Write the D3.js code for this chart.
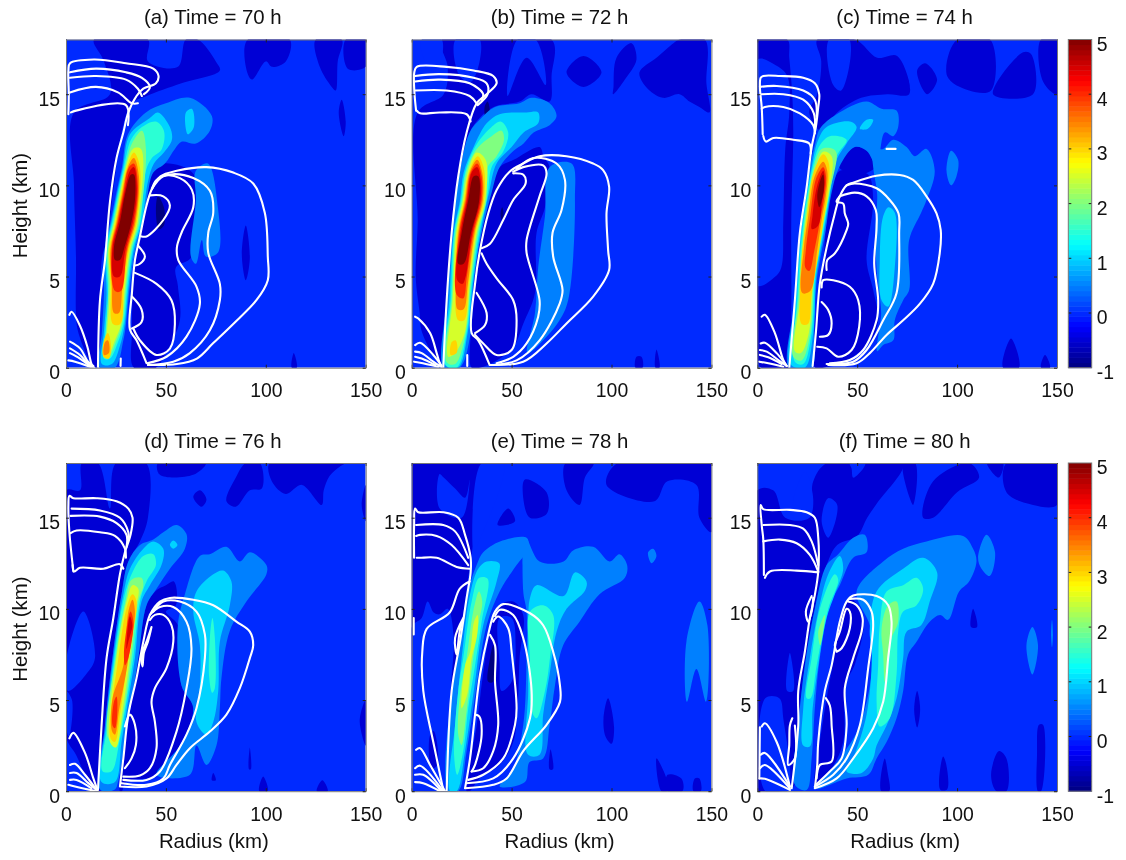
<!DOCTYPE html>
<html><head><meta charset="utf-8">
<script src="https://cdn.jsdelivr.net/npm/d3@7"></script>
<style>html,body{margin:0;background:#fff}svg{display:block;filter:blur(0.5px)}text{font-family:"Liberation Sans",Arial,sans-serif;fill:#111}</style>
</head><body><svg id="c" width="1126" height="860"></svg>
<script>
const titles=["(a) Time = 70 h","(b) Time = 72 h","(c) Time = 74 h","(d) Time = 76 h","(e) Time = 78 h","(f) Time = 80 h"];
const radiusTicks=[0,50,100,150];
const heightTicks=[0,5,10,15];
const barTicks=[-1,0,1,2,3,4,5];
const shadeBase=0;
// Filled bands: [level, r,z, r,z, ...] in km, painted in order
const fillA=[
[-0.5,14,18,19,16.8,22,15,4,14,4,10,5,6,5,3,6,2,13,.2,16,0,17,2,18,6,20.5,7,24,10,28,13,33,14.5,40.3,14.9,57.8,15.6,77,16.3,75,16.8,66,18,60,18,56,16.5,41,16.8,41,18],
[-0.5,34,0,33,2,34,5,37,7.2,40,9,43,10.7,48,11.2,64,10.6,63,6.1,55,5.5,56,4.5,57,2.6,50,.8,45,0],
[-1,46,9.4,49,8.8,49,7.8,46.5,7.6,45,8.6],
[-0.5,91,18,90,16.5,93,15.8,100,16.8,103,16.5,110,16.8,112,18],
[-0.5,125,18,127,16.5,133,15.4,135,15.2,136,16.8,138,18],
[-0.5,140,18,141,16.4,150,16.5,150,18],
[-0.5,136.5,14,138,14.7,140,13.5,139,12.7],
[-0.5,90,7.8,92,6,90,4.8,88,6.2],
[-0.5,113,0,114,.8,115.5,0],
[0.5,65,10.8,71,11.2,76,8.8,76,6.3,70,6.1,68,7,65,5.7,62.5,6.1,65,9.2],
[0.5,17,0,18,2,19,4,19.3,6.5,22.3,8,25,9.5,28,11,31,12.8,40,14,50,14.5,62,14.8,73,13.8,72,13,65,12.3,58,12.4,54.5,12,49.5,11.2,43.7,10.7,41,9.6,38.7,8,34.8,6.5,32,4.5,30,2.4,28.7,1.5,24.5,0],
[1,60,14,63,14.2,64,13.2,61,12.8],
[1,18,.2,19,2,20.3,4,19.8,6.5,22.8,8,25.5,9.5,28.5,11,32,12.8,42,13.7,46,14,52,13.2,53,12.5,49,11.8,44,11.2,41,10.2,38,8,34,6.5,31.4,4.5,29.4,2.4,27,1.2,23,.2],
[1.5,19,.5,19.7,2,21,4,20.3,6.5,23.3,8,26,9.5,29,11,32.5,12.5,38,13.2,45,13.5,49,13,48,12,43,11.5,40,10.8,37.3,8,33.4,6.5,30.8,4.5,28.8,2.4,26,1.4,22,.5],
[2,19,.6,20,2,21.3,4.5,20.8,6.5,23.8,8,26.5,9.5,29.5,11,33,12.3,38,13,40,12,36.7,8,32.8,6.5,30.2,4.5,28.2,2.4,25,1.4,21.5,.6],
[2.5,19,.6,20.5,2,22,4.5,21.3,6.5,24.3,8,27,9.5,30,11,33.5,12,37.5,12,36,8,32.2,6.5,29.6,4.5,27.6,2.4,24.5,1.5,21.3,.7],
[3,23.5,2.4,22.5,4.5,21.8,6.5,24.8,8,27.5,9.5,30.5,11,34,11.8,37,11,35.4,8,31.6,6.5,29,4.5,27.2,2.4],
[3,18.7,.6,19,1.5,21,1.9,22.5,1.2,21.5,.5],
[3.5,24,3,23,4.5,22.3,6.5,25.3,8,28,9.5,31,11,34,11.5,36.5,10.5,34.8,8,31,6.5,28.3,4.5,26.5,3],
[3.5,19,.7,19.5,1.4,21,1.5,21.5,.8],
[4,24.5,4.2,22.8,6.5,25.8,8,28.5,9.5,31.5,11,34,11.2,36,10,34.2,8,30.5,6.5,27.5,4.2],
[4.5,24,5,23.2,6.5,26.3,8,29,9.5,32,10.8,34,11,35.5,9.8,33.5,8,29.8,6.5,27,5],
[5,24.5,5.9,24,6.6,27,8,29.5,9.5,32.5,10.6,34,10.6,34.7,9.5,32.8,8,29,6.5,27,5.9]];
const fillB=[
[-0.5,15,18,18,16.5,16,15,3,14,3,8,2,5,4,3,5,2,13,.3,16,0,17.5,3.7,20,7.4,24,10.7,29,12.9,34,13.7,41,14.3,54,14.6,60,15,69,14.6,70,16,70,18],
[0,48,14.9,57.5,17,67,15.5,62,18,53,18],[0,5,18,7,16.8,13,16.5,15,18],[0,22,18,24,16,30,15.7,34,18],
[-0.5,30,0,29.5,1.9,31,4.6,34,7.4,38,9.6,44,11,51,11.4,64,12.1,66,11.6,69,11,66.7,8.8,62.5,7.4,61.7,4.1,55.8,2.4,51,1.15,42.5,.4,34,0],
[-1,44.5,8.5,45.3,8.8,46,8.4,45,8.1],
[-0.5,77.5,16.2,86,17.1,95,16.2,86,15.4],
[-0.5,101,15.4,102.5,17,110,17.8,112.5,16.9,106.7,15.8,100.8,15],
[-0.5,114,16.2,122.5,17,131,17.8,134,18,146.7,18,147.5,15.6,149,14,144,14.3,139,14.6,134,15,125.7,14.8,117.3,15.4],
[-0.5,112,0,112.5,.6,115,.6,115.5,0],[-0.5,122,0,122.5,1,124,0],
[-1,36.5,14.3,38,14.6,39,14,37,13.7],
[0.5,69,11,80,11.2,81.7,9.2,78.3,3.7,74,2.6,67.5,1.7,58,.8,61.7,3,63.3,5.5,66.7,8.3],
[0.5,16,0,17.5,3.7,20,7.4,24,10.7,29,12.9,34,13.6,41.7,14.3,54,14.5,60,14.8,69,14.5,72.5,13.8,69,13.3,61,12.9,56,12.3,51,11.9,44,11,40,9.6,35,7.4,31,4.6,29.5,1.9,24,0],
[1,16.7,.15,18.8,3.7,21,7.4,24.2,9.2,26,10.7,31,12.1,37.5,13.4,44,13.9,57.5,14,63.3,14,63.3,13.4,56,12.9,50,12.1,42.5,11.2,38.7,9.6,34.4,7.4,30.6,4.6,28,1.9,23.3,0],
[1.5,17,.15,19.5,3.7,21.3,7.4,24.7,9.2,26.7,10.7,31.7,12.1,39,13.1,44.5,13.5,48.3,12.9,46,11.9,40,11,38,9.5,33.8,7.4,30.1,4.6,27.5,1.9,22.5,0],
[2,17.5,.3,20,3.7,21.8,7.4,25.2,9.2,27.2,10.7,32.5,12,40,12.7,45,13,46.2,12.5,42.5,11.6,38,11,37.4,9.2,33.2,7.4,29.6,4.6,27,1.9,21.8,.2],
[2.5,18.3,.6,20.5,3.7,22.3,7.4,25.7,9.2,28,10.7,32.5,11.8,37,11.4,36.8,9.2,32.6,7.4,29.1,4.6,26.5,1.9,21.7,.8],
[3,23.3,2.6,21.7,4.6,22.8,7.4,26.2,9.2,28.5,10.7,33,11.6,36,11,36.2,9.2,32,7.4,28.6,4.6,26.3,2.6],
[3,19.5,.7,20,1.4,22,1.5,22.5,.8],
[3.5,23,3.2,22.2,4.6,23.3,7.4,26.7,9.2,29,10.7,32.8,11.4,35.3,10.7,35.6,9.2,31.5,7.4,28.1,4.6,26,3.2],
[4,22.5,4,23.8,7.4,27.2,9.2,29.5,10.7,32.8,11.2,35,10.5,35,9.2,30.9,7.4,27.6,5,25.8,3.8],
[4.5,22.8,4.8,24.4,7.4,27.7,9.2,30,10.7,32.8,11,34.5,10.3,34.4,9.2,30.3,7.4,27,5,25.5,4.6],
[5,23.3,5.7,25,7.4,28.3,9.2,31,10.5,33.3,10.5,33.8,9.2,29.7,7.4,26,5.7]];
const fillC=[
[-0.5,0,18,15,18,16,17,17.5,15,18,13,17,8,17,3,16,0,2,0,0,1],
[0,0,16.9,9,16.6,15,16,16,14,14,12,13,8,12,5.5,9,5,0,4.5],
[-0.5,30,18,32,16.8,30,15,26,14,32,13,40,14,52,14.8,65,15,76,15,70,17.1,60,17,49,18],
[0,36,18,38,15.5,42,15.2,46,18],
[-0.5,66,15.8,73,16.2,76,15.4,70,15],[-0.5,80,16.3,84,16.7,90,15.8,85,15],
[-0.5,100,18,95,16,106,15.2,117,15.2,116.5,18],
[-0.5,118,15,133,17.3,137,17.2,138,15],
[-0.5,142,18,150,18,150,15,143,15.7],
[-0.5,127,1.6,123,0,131,0],[-0.5,144,.7,142,0,146.5,0],
[-0.5,29,0,30,3.6,33,5.9,36,9.2,41.3,10.8,49,10.7,55.5,10.6,58,9.2,54.7,5.9,58,4.26,60.5,2.6,57,1.5,48,.6,39.7,.2,33,0],
[-0.5,41,11,48.8,12.1,54.7,11.9,59.7,11.1,52,10.6],
[0.5,58,12,63,12,68,12.5,74.7,12.1,78.8,11.6,84.7,12,88.8,10.8,84.7,9.2,82,8.5,76,7,76,4.26,73,3.7,68.8,2.6,68,1.5,63,1.24,60,.9,62,3,60,5,59,7.5,60,9.5,58,11],
[0.5,94.7,10.8,97,11.9,100.5,11.4,99.7,10.5,97,10],
[0.5,16,0,18.8,3.7,21.3,7.4,26.3,11,29,12.3,31.3,13.1,39.7,13.9,54.7,14.6,62.2,14.2,69.7,14.1,70.5,13.2,68,12.7,63.8,12.9,59.7,11.1,54.7,11.9,48.8,12.1,41,11,37,9.5,34,7.4,30,5,28.5,2.8,27,0],
[1,63,8.3,65.7,8.8,68.8,8.5,68.8,5.5,65.5,3.35,62.2,3.7,61.3,5.9],
[1,51.3,13.1,54.7,13.6,58,13.6,55.3,13.1],
[1,16.5,.2,19.3,3.7,21.8,7.4,27.2,11,30.5,12.5,34.7,13.2,46.3,13.5,49.7,13.2,44.7,12.3,39.7,11.4,36.3,9.4,33.3,7.4,29.5,5,28,1.9,23.8,0],
[1.5,18.8,.33,20,3.7,22.5,7.4,27.7,11,31.3,12.2,36.3,12.7,44.7,12.5,39.7,11.6,36,9.4,32.8,7.4,29,5,27.2,1.9,23,.2],
[2,18,.6,20.5,3.7,23,7.4,28.3,11,32.2,12,38,12,39.7,11.75,35.7,9.4,32.3,7.4,28.5,5,26.6,1.9,22.2,.4],
[2.5,18.8,.9,21.3,3.7,23.5,7.4,28.8,10.8,33,11.85,37.2,11.6,35.5,9.4,31.8,7.4,28,5,25.8,1.9,21.8,.8],
[3,22.2,2.4,21.3,4,22.5,6.45,24.8,8.3,28,10.65,33,11.7,35.8,11.2,35,9.4,33.5,8.3,31,6.45,27.2,4,25.4,2.4],
[3.5,22.5,4.1,23.2,6.45,25.5,8.3,28.7,10.5,33,11.3,35,10.8,34.3,9.4,32.5,8.3,30,6.45,26.5,4.2],
[4,24,5.5,24.3,6.45,26.5,8.3,29.5,10.4,33,11,34.4,10.5,33.3,9.2,31.8,8.3,28.6,6.45,26,5.3],
[4.5,27.3,7.6,27.6,8.3,30,10,33,10.8,33.8,10.2,32.3,9,30.5,7.8],
[5,30,9.4,31.6,10.3,33,10.6,33.3,9.75,31,8.8]];
const fillD=[
[-0.5,8,18,16,18,22,15.5,25,18,40,18,41,15,37,13.7,31.2,12.6,27.8,10.8,23.7,7.7,19.5,3.6,17,0,14,0,5,2,0,3,0,16.5,7,16.5],
[0,8.7,9.85,14.5,7.3,10,6.4,1,5.5,.3,7.3],[0,0,5.5,3,5,1.5,3,0,3.5],
[-0.5,27,0,29.5,2.7,32,4.4,36.2,7.3,40.3,10.2,45,11,50,11.3,54,11.5,55,10.2,50,9.85,56,9.1,57.8,5.8,63.7,4.55,57,2.5,47,.9,30,.5,28,0],
[-0.5,63.7,16.15,67,16.5,70.3,16,67.8,15.6],[-0.5,46,18,47,17.35,63.7,17.35,70,18],
[-0.5,80.3,15.9,85,17.2,90,18,97,18,98,16.6,92,16.5,85,15.6],
[-0.5,102,18,103,17,110,16.3,118,16.8,128,15.7,129,16.5,132,17.3,137,17.8,140,18],
[-0.5,150,5,147,3.9,150,2.5],[-0.5,148,15.7,150,16.8,150,14.8],
[-0.5,98.7,.8,96.7,0,101,0],[-0.5,128.3,.6,125.5,0,131,0],[-0.5,92,2.4,91.6,1.2,92.5,1.2],[-0.5,73.7,1,73,.6,75,.6],
[0.5,59.5,10.8,67,12.9,72,13,80.3,13.4,87,12.6,92,13.1,100.3,12.4,100.3,11.9,90.3,10.4,82,8.8,77.8,6.2,77,4.55,75.3,2.5,70.3,1.44,65.3,2.5,62,.9,45.3,.9,57,2.5,63.7,4.55,57.8,5.8,56,9.1],
[1,63.7,9.85,65.3,10.95,73.7,11.9,78.7,12.1,82.8,11.5,82,10.2,77,8.2,76.2,5.5,73.7,3.8,70.3,3.1,65.3,3.8,67,5.8,67,8],
[1.5,72,8.4,73.3,9.5,74.5,8.4,74.5,5.65,73.2,5.4,71.7,6.2],
[0.5,17,.1,19.5,3.6,23.7,7.7,27.8,10.8,31.2,12.6,37,13.5,43.7,13.8,48.7,14.2,55.3,14.6,60.3,14.1,59.5,13.3,52,12.2,45.3,11.1,40.3,10.2,36.2,7.3,32,4.4,29.5,2.7,26,.5,24.5,.1],
[1,17.8,.5,20,3.6,24.2,7.7,28.7,10.8,32,12.2,38.7,13.3,43.7,13.7,48.7,13.3,47.8,12.4,42,11.3,37.8,10.4,34.5,7.3,30.3,4.4,27.8,2.7,24.5,.5],
[1,52,13.5,53.7,13.75,55.8,13.5,53.7,13.3],
[1.5,18.3,1.1,20.7,3.6,24.7,7.7,29,10.6,32.8,11.9,38.7,12.9,43.7,13,45,12.4,40.3,11.5,37,10.4,33.7,7.3,29.5,4.4,26.7,2.7,22.8,1.1],
[2,21.2,2.9,25.3,7.7,29.7,10.4,32.8,11.6,37.8,11.7,38.7,11.3,36.2,10.4,32.8,7.3,29,4.4,25.3,2.7],
[2.5,22,2.7,25.7,7.7,30.3,10.4,33.3,11.3,36.2,11.1,34.5,9.85,32,7.3,28.3,4.4,25,2.4],
[3,22.3,2.9,26.2,7.3,30.7,10.2,33.3,10.8,35.3,10.4,31,7.3,27.3,4.4,24.5,2.7],
[3.5,23,3.3,23.3,5.1,28.7,6.9,31.2,9.85,33.3,10.5,34.5,9.85,30.7,6.9,26.7,4.55,24.5,3.1],
[4,23.3,3.6,24,4.9,25.3,5.2,25.7,4.4,24.5,3.45],
[4,29,7.5,30.3,8.9,32.3,9.85,33.7,9.3,31.2,7.3,29.5,6.9],
[4.5,30.7,8.75,32,9.6,33.2,9.1,31.2,8.2,30.3,7.8]];
const fillE=[
[-0.5,0,18,35,18,30,13,28,11.5,24,8.2,20,5.5,18,0,0,0],
[0,0,9,5,9.5,8,10.4,11,9.8,14,9.7,18,10,21,8.5,19.5,5.5,18,0,4,0,0,0],
[-0.5,9,3,11,3.3,13,1.5,10,1.2],
[0,14,17.4,16,17.2,21.7,16.6,26.7,16.1,29,17.1,25,15,14,15.5],
[0,35,18,46,18,33,13.5,31,13],
[-0.5,43,14.6,48.3,15.5,51.7,14.8],
[-0.5,55.8,16.1,56.7,17.1,67.5,16.4,67.5,15.2,59.2,15],
[-0.5,77,18,77.5,16.5,84,15.7,86.7,17.2,91,18],
[-0.5,103,18,97.5,16.8,121.5,15.9,128,17,142.5,16.8,144,15,150,14.2,150,18],
[-0.5,27.5,0,32.5,3.6,35.8,6.5,39.2,8.75,44.2,10.2,50.8,10.4,55.8,9.67,54,7.3,53,4.55,50.8,2.7,44,1.44,34,.7,29,0],
[0,44,9.5,50,9.5,52,8,50,6,45,5.5,44,7],
[-1,39.2,7.3,40.8,8,40.8,6,38.3,6],
[-0.5,98.3,5.1,96,4,97,3,100,2.6,101.3,3.5],[-0.5,122.5,1.8,125,0,128,0,127.5,.7],[-0.5,128,.9,135,.7,135.5,0,128,0],[-0.5,141.7,.7,144,.7,144.7,0,141,0],[-0.5,69.5,2.3,70.7,1.2,69,1.2],
[0.5,137.5,8.2,144,10.4,148,9.1,147.3,4.9,142.5,6.7,137.8,4.9],
[0.5,118.3,13.1,120.8,13.3,122.5,12.9,120,12.5],
[0.5,18.3,0,20,5.5,24.2,8.2,28.3,11,32.5,12.4,35.8,13.1,44.2,13.7,57.5,13.9,58.3,13.3,52.5,12.4,44.2,11,37.5,9.1,32.5,5.8,27.5,2.2,23.3,0],
[0.5,57,13.9,64,12.6,76,12.6,80.8,13.2,90.8,13.4,99,12.6,104,13,107.8,12.4,106.7,11.7,94,10.8,84,9.3,75.8,8,71.7,5.8,69,3.6,65.8,1.8,59,1.6,56.7,.5,44,.26,50.8,1.26,55.8,3.6,57.5,7.3,57.5,9.85,55.8,11],
[1,19.2,0,21.7,3.6,25,7.3,29.2,10.8,33.3,12.2,37.5,12.6,43.8,12.5,42.5,11.5,35.8,9.1,31.7,6,26.7,2.2,22.5,0],
[1,59.2,10.6,62.5,11.3,76,10.7,81.7,12,87.5,11.5,86.7,11,77.5,10,72.5,8.75,69,6.4,65.8,4.2,64,2,58.3,2,58.3,5.5,58.3,9.1],
[1.5,59.2,9.85,65.8,10.2,70.8,9.67,69.2,7.3,66.7,5.5,62.5,4,60,4.4,59.2,7.3],
[1.5,21.2,2,23.3,5.5,25.8,7.3,30,10.4,33.8,11.7,38,11.65,35,9.3,31.7,6.9,28.3,4.55,25.8,2.2,22.8,.9],
[2,23.3,3.1,24.2,5.3,27.5,7.3,30.8,9.85,33.7,10.95,35.3,10.4,33.7,9.3,30.8,7.3,27.5,4.4,25,2.54],
[2.5,25,4.55,26.7,6.9,29.2,7.65,31.2,9.3,33,9.67,32.8,8.6,30,7.3,27.8,5.3]];
const fillF=[
[-0.5,0,16.5,8,16.5,14,15,26,15,28,17,35,18,73,18,60,15.8,55,15,50,14,40,13.5,34.7,12.4,28.8,10,23.8,6.9,20.5,3.6,18.8,.35,12,0,0,0],
[0,18,16,24,17.5,28,16,26,15,18,15],[0,4,5.1,11,5.1,13,4,15,0,4,0],[0,16.3,7.6,18,5.5,15,5.5],
[0,32.2,14.8,35.5,16.07,40,15.7,35.5,13.9],
[0,47.2,17.7,48,17.2,53,17.7,54,18,46.3,18],
[-0.5,73,18,78,15.7,79,18],[-0.5,83,15,88,17,106,18,111,17.2,100,16.4,88,15],
[-0.5,124.7,18,124.7,16.4,138,15.7,150,15.7,150,18],[-0.5,115,18,120.8,17.2,123,18],
[-0.5,29,.2,32.5,3.6,37,6.5,41,9,46.3,10.6,53,9.5,49,7,44,5.8,43,2.7,36.3,1.08],
[-0.5,78.5,4.5,80,5.5,81.5,4.5,80,3.5],[-0.5,108,10,110,9,107,9],
[-0.5,63.8,1.8,62,0,66,0,65.3,1],[-0.5,93,1.9,91.5,.1,95,.1,94.5,1.5],
[-0.5,121,2.2,117,.9,119.7,0,124.7,0,124.7,1.8],[-0.5,141,3.64,140,2,140.5,0,142,0,143,3.64],
[0.5,110.5,12.8,114.7,14.06,119,13.1,116.3,11.8,112.2,12.2],
[0.5,134.7,8,137.7,9,140.5,8,137.7,6.4],[0.5,147,8.6,147.5,9.4,148,8.6,147.5,7.9],
[0.5,18.8,.35,20.5,3.6,23.8,6.9,28.8,10,34.7,12.4,40.5,13,48,13.9,53.8,14.06,54.7,13.1,48,12.8,41.3,11.3,36.3,10.2,31.3,7.3,28.8,4.55,27.2,1.8,24.7,.07],
[0.5,49.7,10.95,63,12.6,73,13.3,84.7,13.7,103,14,108,13.3,109.7,12.6,106,11.5,101,10.95,95.5,9.4,91.5,9.67,86.3,9.3,79.7,8.2,75.5,7.5,73,5.5,69.7,4,64.7,2.7,59.7,1.8,55.5,.9,44.7,.7,29.7,.16,41.3,1.8,51.3,3.6,58,7.3,56.3,9.1],
[1,23,2.5,23,4.55,26.3,7.3,30.5,9.85,35.5,11.9,41.3,12.9,43,12.2,38.8,10.8,34.7,9.5,30.5,6.9,27.7,4.55,26.3,2.45],
[1,56.3,8.9,59.7,10.95,73,12.2,83,12.8,90,12,86.3,10.4,82,9.1,74.7,8.75,73,7.3,69.7,5.1,64.7,3.6,59.7,2.5,58,1.8,52.2,1,44.7,1.08,48,1.8,54.7,4.2,57.3,7.3],
[1.5,24.7,5.1,27.2,7.3,31.3,10,38.8,11.9,40.5,11.6,35.5,10,29.7,6.9,26.7,5.1],
[1.5,61.3,9.1,64.7,10.95,73,11.3,79.7,11.7,83,11.1,79.7,10.2,73,9.85,70.5,8.75,69.7,6.4,66.3,4,61.3,3.55,59.7,4.9,60.5,6.9],
[2,62.2,8.94,65.5,10.2,69.7,10.4,70.5,9.3,67.2,8.4,65.5,7.3,63.8,6,63,7.5],
[2,30.5,8.75,33.8,9.67,33,8.8,31.5,8]];
// White contour lines: flat r,z lists in km
const lineA=[
[16,0,17,3.7,19.5,5.9,22,9.1,25.3,11.5,28.7,12.9,31.2,14,35.3,14.9,38.7,15.3,45,15.6,46.3,16,43.7,16.4,30,16.7,14,16.9,2,16.7,1.2,16.3,1.4,15,1.2,13.9],
[2,16.2,15,16.4,30,16.2,38,15.9,42,15.4,39,15],[2,15.9,15,16,30,15.8,36,15.3,38,14.9],[2,15.1,15,15.4,26,15.1,33,14.5,36,14.5],[2.5,14,5,14.1,30,14.4,31,13.3],
[1.7,2.9,2.8,3.07,7,2.3,10.7,1.15,12.8,.2,14,0],[2,1.43,7,1.06,11,.33,13.7,.1],[2,1.06,7,.7,12,.1,14,0],[2,.8,7,.5,12.5,.05],[1.2,.4,4.5,.33,12,.05],
[41,.15,55.5,.2,65.5,.5,73.7,1.35,83.7,2.4,95.3,3.7,101,4.8,101,6.1,99.5,8.5,93.7,10.1,83.7,10.7,70.3,11,55.5,10.8,47.3,10.5,43,9.8,40.3,8.9,37,7.2,34.5,5.9,33,4.1,32,2.1,35.3,1.5,40.3,.25],
[41,.15,53.7,.33,62,.8,72,2.05,77,3.7,77,4.6,71.2,6.3,71.2,7.4,73.7,8.5,72,9.7,63.7,10.4,52,10.6,45.3,10.3,43,9.8],
[41,.25,50.3,.6,60.3,1.7,67,3.5,65.3,4.45,56.2,5.9,55.5,6.6,57.8,7.4,63.7,8.8,63,9.75,57,10.4,48.7,10.5,43,9.8],
[33.7,2.15,37,1.5,45.3,.7,52,1.05,54.5,2.4,52.8,3.7,45.3,4.6,34.5,5.2],
[33,3.9,37.8,3.2,37.8,2.5,33,2.15],[36,6.7,39.5,6.1,37,5.7,34.5,5.6],[42,9.45,48.7,9.4,52,8.9,48.7,8.1,40.3,7.2,37.8,7.2],
[27.3,.1,27.4,.5]];
const lineB=[
[15.8,0,17.5,3.7,20,7.4,23.3,10.5,27.5,12.9,32.5,14.5,37.5,15,42.5,15.6,40.8,16,31,16.3,17.5,16.5,2.5,16.5,1.3,16.2,1.3,15.2,2.2,14.1],
[1.7,16,14,16.1,31,15.9,37.5,15.6,38,15,33,14.4],[1.7,15.7,14,15.8,29,15.6,35.8,15,35,14.7],[1.7,15.2,17.5,15.2,29,14.9,32.5,14.5],[2.5,14.1,4.2,13.95,14,14,27.5,13.9,29.5,13.5],
[1.7,2.8,3.3,2.7,9.2,1.9,12.5,.8,13.8,.33,15,0],[1.7,1.24,4.2,1.37,10.8,.7,15,.1],[1.7,.88,5,.8,10.8,.33,14,.1],[1.7,.6,5,.5,11.7,.15],[1.2,.33,4.2,.27,13.3,.05],
[39,.15,55.8,.33,67.5,1.33,77.5,2.43,90.8,3.9,98.8,5.36,98.3,6.45,97.5,8.46,98.8,9.93,95.8,10.84,90.8,11.2,77.5,11.6,64,11.6,55.8,11.2,49,10.75,42.5,9.74,38.3,8.46,34.2,6.45,31.7,4.6,30,1.9,33.3,1.5,39,.15],
[40.8,.15,52.5,.4,64,1.5,74,3.5,75.5,4.26,70.8,6.1,70.5,7.4,75,8.65,76.7,10.3,72.5,11.2,60.8,11.5,52.5,10.9],
[42.5,.24,50.8,.6,57.5,1.33,63.3,2.8,64,3.7,57.5,6.3,57.5,7,64,9.4,67.5,10.65,65.8,11.1,55.8,11,50.8,10.75],
[31.7,1.8,35.8,1.33,42.5,.7,50,.97,52.5,2.6,50.8,3.7,42.5,4.9,37.5,5.7,35,6.27],
[32.5,4.1,37.5,3,36.7,2.34,31.7,1.9],
[35,6.55,39.2,6.8,45.8,8.1,50.8,9.2,57,10.1,56,10.57,50.8,10.66],
[27.8,.1,27.8,.7]];
const lineC=[
[16,0,18.8,3.7,21.3,7.4,24.7,9.9,27.2,12.1,29.3,13.2,30.5,14.3,31,15,28.8,15.6,23,15.9,11.3,16,3,16,1.7,15.9,1.3,15.4,2.2,14.3,2.7,12.8],
[1.3,15.4,9.7,15.45,23,15.2,28.8,14.7,29.7,13.8],[2.2,15,13,15,23,14.7,28.3,13.95,28.8,13.1],[2.2,14.2,3.8,14.3,13,14.3,21.3,13.95,28,13.3,28.8,12.85],[3,12.7,4.3,12.4,8,12.6,18,12.5,26,12.3,26.7,11.75],
[2.2,2.8,3.8,2.9,8.8,1.9,13,.42,14.7,.1],[1.7,1.33,3.8,1.37,9.7,.8,14.7,.1],[1.3,.97,4.7,.88,10.5,.42,14.7,.1],[1.3,.7,5.5,.57,12.2,.2],[1,.33,5.5,.24,13,.05],
[35.5,.15,49.7,.24,56.3,.8,64.7,1.8,73,2.6,81.3,3.5,88,4.6,91.3,6.27,91.8,7.55,89.7,8.46,84.7,9.4,78,10.3,71.3,10.57,59.7,10.53,48,10.15,44.7,10,41.3,9.4,38.8,8.46,34.7,6.6,31.3,4.6,29.3,1.9,27.7,.1],
[34.7,.2,48,.33,54.7,.97,63,2.6,69.7,4.1,71,7.4,70.7,8.46,66.3,9.2,59.7,9.84,48.8,10.1,44.7,10],
[36.3,.24,46.3,.42,53,.97,59.7,2.6,60.5,3.7,58.5,5.7,59.7,7.7,59.3,8.65,54.7,9.4,48.8,9.6,41.3,9.4],
[30,1.15,34.7,1.06,40.5,.6,47.2,.97,51,2.25,50.5,3.7,46.3,4.44,38,4.8,33,4.8,32.2,4.4],
[32.2,3.6,35.5,3.16,37.2,2.43,35.5,1.8,31.3,1.7],
[34.7,5.36,35,5.9,38.8,6.27,44.7,7.55,45.5,7.9,43.8,8.46,43,9,39.7,9.1,41.3,9.4],
[64.7,12,69.2,12]];
const lineD=[
[16,.07,17.8,3.6,20.3,7.3,23.7,9.5,27,11.9,29.5,13.1,32.3,14.06,33.3,15,31.2,15.5,25.3,15.9,15.3,16.07,3.7,16.07,1.7,16.2,1.2,15.7,1.7,14.2,3.7,12.05],
[2.8,15.5,17,15.4,27,15,31.2,14.2,31.2,13.8],[2.3,15.1,17,15.06,25.3,14.7,30.3,14.06,30.3,13.4],[2.3,14.15,5.3,14.3,17,14.2,24.5,14,29.5,13.3,30,12.8],[3.3,12.4,4,12.05,7,12.25,18.7,12.2,27,12.45,28.7,12.2],
[1.7,2.9,3.7,3.2,9.5,2.1,13.7,.7,15.7,.07],[2,1.44,4.5,1.5,9.5,.9,15.3,.07],[2,1,5.3,1,11.2,.44,15.3,.07],[2,.62,5.3,.62,12.8,.16],[1.2,.35,4.5,.26,14.5,.02],
[27,.26,40.3,.26,50.3,.7,55.3,1.44,62,2.36,72,3.27,80.3,4.2,87,5.65,92,7.3,93.7,8,92,8.75,85.3,9.3,73.7,10.2,63.7,10.5,52,10.6,47,10.4,42,9.67,38.7,8.2,35.3,6.2,31.2,4.2,28.7,1.8,27,.26],
[27.8,.44,40.3,.35,48.7,.7,52,1.44,60.3,3.1,65.3,4.55,69.5,7.3,69.5,8.6,65.3,9.85,57,10.4,48.7,10.4,43.7,9.85],
[28.7,.62,40.3,.62,47,1.08,55.3,3.27,60.3,5.65,62.8,7.84,60.3,9.3,53.7,10.1,47,10.1,42,9.67],
[28.7,.8,37,.86,42,1.26,45.3,2.36,44.5,3.8,42.8,4.9,44.5,5.65,50.3,6.75,53.7,8.2,52.8,9.1,48.7,9.67,44.5,9.67,42,9.4],
[29.5,3.55,32,4.2,34.5,3.64,35,2.54,32.8,1.8,29.5,1.26],
[42.8,9,40.3,8.2,37.8,7.5,38.3,6.84,39,7.6,41,8.2,42.8,9]];
const lineE=[
[17.5,0,20,5.5,24.2,8.2,27.5,10.6,29.5,12,29.5,12.8,26.7,14.06,23.3,15,15.8,15.3,3.3,15.3,1.7,15.5,1.2,14.6,1.2,12.8],
[1,9.5,1,8.6],
[2.2,14.6,15.8,14.6,21.7,14.25,28.3,12.8],[2.2,14,4.2,14.06,12.5,14,20,13.5,28.3,12.4],[2.5,12.8,4.2,12.8,12.5,12.8,22.5,12.3,29.2,12.2],
[29,11.5,24,11.1,19,9.8,7.5,8.9,5.3,7.65,5.8,5.5,10.8,2.7,15.8,.07],
[25.8,9.5,21.7,8.4,22.5,7.5,24,8.75,25.8,9.5],
[2.2,2.27,4.2,2.36,9.2,1.44,16.7,0],[1.7,1.26,4.2,1.4,15.8,0],[1.7,.9,5.8,.9,15,0],[1.7,.5,5.8,.44,14.2,0],
[26.7,.16,40.8,.35,47.5,.7,55.8,2.2,67.5,3.64,74.2,4.9,74.2,5.8,70.8,7.65,65.8,9.1,59.2,9.76,45.8,10.26,41.7,9.85,38.3,8.6,34.2,6.4,31.7,4.2,29.2,1.8,26.7,.16],
[27.2,.44,40.8,.7,50.8,1.8,59.2,4,60,5.5,55.8,8.4,50.8,9.67,44.2,9.95,41.7,9.6],
[28.3,.62,35.8,.9,45.8,1.8,51.7,3.64,52.5,4.55,50,7.65,48.3,8.94,43.3,9.58,40.8,9.3],
[30,1.08,35.8,1.26,40.8,2.2,43.3,3.64,41.7,6,41.7,8,39.2,8.57],
[31.7,4.2,33.8,4.1,35,3.1,31.7,1.44,30,1.08]];
const lineF=[
[17.2,.16,20.5,3.6,20.5,5.5,23.8,7.65,26.3,9.5,28.8,10.77,30.5,12.05,30.5,13.9,28.8,15,24.7,15.3,16.3,15.43,3,15.47,1.7,15.7,2.2,14.6,3,13.8,3.3,11.86],
[3,14.6,16.3,14.6,23,14.4,27.2,13.7,30.5,12.4],[3,13.7,11.3,13.8,19.7,13.6,26.3,12.96,30.5,12.05],[3.8,11.7,6.3,12.05,19.7,12.1,30.5,12],
[27.2,10.7,24.3,9.85,25.5,9.3,27.2,9.85,28,10.6],
[17.5,4,16.3,3.6,16,2.54,15.5,1.44,18.8,1.8,18.8,3.6],
[2.2,3.55,3.8,3.73,9.7,2.7,16.3,.26],[1.7,2,3.8,2.1,16.3,.26],[1.3,1.26,3.8,1.44,16.3,.16],[1,.7,3.8,.68,16.3,.07],[1.3,3.5,1,.7],
[28.8,.16,39.7,.7,48,1.8,58,3.45,63,4.9,65.5,7.3,67.2,9.3,65.5,10.2,59.7,10.7,48,10.73,44.7,10.4,41.3,9.3,37.2,6.9,33.8,5.5,30.5,2.7,30,1.44,28.8,.16],
[28.8,.25,38,.9,44.7,1.8,51.3,3.6,55.5,6.75,58,9.1,57.2,9.85,53,10.5,46.3,10.55],
[29.3,.35,36.3,1.08,42.2,1.8,44.7,3.6,43.8,5.65,48,7.3,52.2,8.75,52.7,9.5,49.7,10.2,45.5,10.4],
[29.7,.7,31.3,1.44,37.2,1.63,37.2,3.6,36.3,4.7,34.3,5.1],
[39.7,7.65,42.2,7.84,46.3,8.94,46.3,9.85,44.7,10,41.3,8.75,38.8,8,39.7,7.65]];
const fills=[fillA,fillB,fillC,fillD,fillE,fillF];
const lines=[lineA,lineB,lineC,lineD,lineE,lineF];

const colW=[66,411.7,757.3], W=299.7;
const rowY=[39.5,463], H=328.2;
const xDom=[0,150], yDom=[0,18], cDom=[-1,5];
const jetStops=["#000080","#0000ff","#00ffff","#ffff00","#ff0000","#800000"];
const jetPos=[0,.125,.375,.625,.875,1];
const jetF=d3.scaleLinear().domain(jetPos).range(jetStops);
const jet=v=>jetF((v-cDom[0])/(cDom[1]-cDom[0]));
const toPts=a=>d3.range(0,a.length,2).map(i=>[a[i],a[i+1]]);
const svg=d3.select("#c");
const defs=svg.append("defs");
const FS=20.4, TS=19.4;
const titleDx=[-3,-2,-2.5], labelDx=[-2,-2,-2];
fills.forEach((f,i)=>{
 const col=i%3,row=Math.floor(i/3),X=colW[col],Y=rowY[row];
 const x=d3.scaleLinear(xDom,[0,W]), y=d3.scaleLinear(yDom,[H,0]);
 const g=svg.append("g").attr("transform",`translate(${X},${Y})`);
 defs.append("clipPath").attr("id","cp"+i).append("rect").attr("width",W).attr("height",H);
 const p=g.append("g").attr("clip-path",`url(#cp${i})`);
 p.append("rect").attr("width",W).attr("height",H).attr("fill",jet(shadeBase));
 const area=d3.line().x(d=>x(d[0])).y(d=>y(d[1])).curve(d3.curveCatmullRomClosed.alpha(.5));
 const ln=d3.line().x(d=>x(d[0])).y(d=>y(d[1])).curve(d3.curveCatmullRom.alpha(.5));
 p.selectAll("path.f").data(f).join("path").attr("class","f")
  .attr("d",d=>area(toPts(d.slice(1)))).attr("fill",d=>jet(d[0]));
 p.selectAll("path.l").data(lines[i]).join("path").attr("class","l")
  .attr("d",d=>ln(toPts(d))).attr("fill","none").attr("stroke","#fff").attr("stroke-width",2.1).attr("stroke-linejoin","round").attr("stroke-linecap","round");
 const ax=(gen,tr)=>{const a=g.append("g").attr("transform",tr).call(gen);
   a.select(".domain").attr("stroke","#777").attr("stroke-width",1);
   a.selectAll("line").attr("stroke","#222");
   a.selectAll("text").attr("font-size",TS).attr("font-family","Liberation Sans").attr("fill","#111");return a;};
 ax(d3.axisBottom(x).tickValues(radiusTicks).tickSize(-3).tickPadding(16).tickSizeOuter(0),`translate(0,${H})`);
 ax(d3.axisTop(x).tickValues(radiusTicks).tickSize(-3).tickFormat("").tickSizeOuter(0),"translate(0,0)");
 const ly=ax(d3.axisLeft(y).tickValues(heightTicks).tickSize(-3).tickPadding(6).tickSizeOuter(0),"translate(0,0)");
 ly.selectAll("text").attr("dy","0.72em").attr("y",-3);
 ax(d3.axisRight(y).tickValues(heightTicks).tickSize(-3).tickFormat("").tickSizeOuter(0),`translate(${W},0)`);
 g.append("text").attr("x",W/2+titleDx[col]).attr("y",-15.5).attr("text-anchor","middle").attr("font-size",FS).text(titles[i]);
 if(row==1) g.append("text").attr("x",W/2+labelDx[col]).attr("y",H+57).attr("text-anchor","middle").attr("font-size",FS).text("Radius (km)");
 if(col==0) g.append("text").attr("transform",`translate(-39,${H/2+2}) rotate(-90)`).attr("text-anchor","middle").attr("font-size",FS).text("Height (km)");
});
rowY.forEach(Y=>{
 const c=d3.scaleLinear(cDom,[H,0]);
 const g=svg.append("g").attr("transform",`translate(1068.3,${Y})`), bw=23.4;
 const steps=d3.range(64).map(k=>cDom[0]+k*(cDom[1]-cDom[0])/64);
 g.selectAll("rect").data(steps).join("rect").attr("x",0).attr("width",bw)
  .attr("y",d=>c(d+6/64)).attr("height",H/64+.5).attr("fill",d=>jet(d+3/64));
 const a=g.append("g").attr("transform",`translate(${bw},0)`).call(d3.axisRight(c).tickValues(barTicks).tickSize(0).tickPadding(5).tickFormat(d=>String(d)));
 a.select(".domain").remove();
 a.selectAll("text").attr("font-size",TS).attr("fill","#111").attr("dy","0.72em").attr("y",-3);
 g.selectAll("line.t").data(barTicks.slice(1,-1)).join("line").attr("class","t").attr("x1",0).attr("x2",3).attr("y1",d=>c(d)).attr("y2",d=>c(d)).attr("stroke","#222");
 g.selectAll("line.u").data(barTicks.slice(1,-1)).join("line").attr("class","u").attr("x1",bw-3).attr("x2",bw).attr("y1",d=>c(d)).attr("y2",d=>c(d)).attr("stroke","#222");
 g.append("rect").attr("width",bw).attr("height",H).attr("fill","none").attr("stroke","#777");
});
</script></body></html>
